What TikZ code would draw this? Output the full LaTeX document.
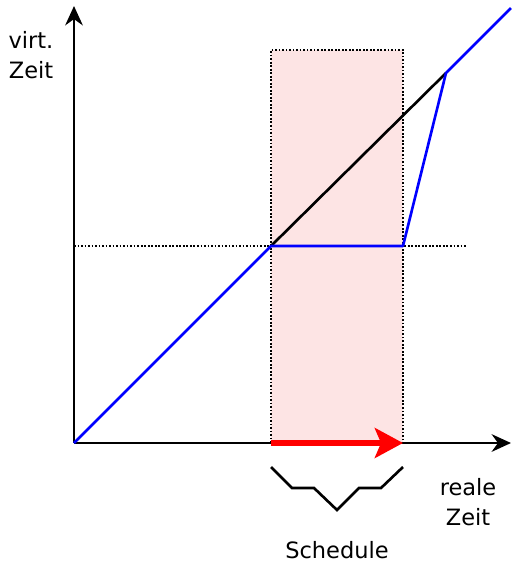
\documentclass[tikz,border=0pt]{standalone}
\usepackage{fontspec}
\setmainfont{DejaVu Sans}
\usetikzlibrary{arrows.meta}
\definecolor{rosa}{RGB}{253,228,228}

\begin{document}
\begin{tikzpicture}[x=0.02cm,y=-0.02cm,
    achse/.style={line width=1.5pt,-{Stealth[length=11pt,width=10pt]}},
    kurve/.style={line width=1.5pt,blue},
    ideal/.style={line width=1.5pt,black},
    hilfs/.style={line width=1pt,dash pattern=on 1pt off 1pt},
    txt/.style={inner sep=0pt,align=center,font=\fontsize{12.8}{17}\selectfont}]
  \useasboundingbox (0,0) rectangle (513,562);

  % ---- punkte --------------------------------------------------------------
  \coordinate (o)  at (74,443);
  \coordinate (xe) at (511,443);
  \coordinate (ye) at (74,6);
  \coordinate (s0) at (271,246);
  \coordinate (s1) at (403,246);
  \coordinate (h1) at (467,246);
  \coordinate (k)  at (446,73);
  \coordinate (ke) at (511,8);
  \coordinate (r0) at (271,443);
  \coordinate (r1) at (403,443);

  % ---- schedule-bereich ----------------------------------------------------
  \fill[rosa] (271,50) rectangle (403,443);
  \draw[hilfs] (r0) -- (271,50) -- (403,50) -- (r1);
  \draw[hilfs] (o |- s0) -- (h1);

  % ---- achsen --------------------------------------------------------------
  \draw[achse] (o) -- (xe);
  \draw[achse] (o) -- (ye);

  % ---- verlauf -------------------------------------------------------------
  \draw[ideal] (s0) -- (k);
  \draw[kurve,line join=round] (o) -- (s0) -- (s1) -- (k) -- (ke);
  \draw[red,line width=3.2pt,-{Stealth[length=16pt,width=17pt,inset=3.5pt]}]
    (r0) -- (r1);

  % ---- klammer -------------------------------------------------------------
  \draw[line width=1.5pt] (271,467) -- (292,488) -- (314,488) -- (337,510)
    -- (359,488) -- (381,488) -- (403,467);

  % ---- beschriftung --------------------------------------------------------
  \node[txt] (vz) at (31,55) {virt.\\Zeit};
  \node[txt] (rz) at (468,502) {reale\\Zeit};
  \node[txt] (sc) at (337,550) {Schedule};
\end{tikzpicture}
\end{document}
